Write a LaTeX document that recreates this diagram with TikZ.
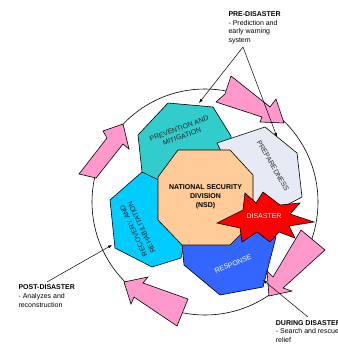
\documentclass[tikz,border=0pt]{standalone}
\usepackage{fontspec}
\setmainfont{Liberation Sans}
\usetikzlibrary{arrows.meta}
\definecolor{tealc}{HTML}{33CCCC}
\definecolor{prepc}{HTML}{E6EAF5}
\definecolor{cyanc}{HTML}{00CCFF}
\definecolor{bluec}{HTML}{3366FF}
\definecolor{nsdc}{HTML}{FFCC99}
\definecolor{starc}{HTML}{FF0000}
\definecolor{pinkc}{HTML}{FF99CC}
\begin{document}
\begin{tikzpicture}[x=1pt,y=-1pt,
  shapebox/.style={draw=black,line width=0.6pt,line join=miter},
  pinkarrow/.style={draw=black,fill=pinkc,line width=0.6pt},
  lbl/.style={font=\fontsize{7}{8.6}\selectfont,align=center,inner sep=0pt,text=black!85},
  note/.style={font=\fontsize{7}{8.6}\selectfont,align=left,inner sep=0pt,anchor=north west},
  callout/.style={draw=black,line width=0.5pt,-{Latex[length=4pt,width=3pt]}}]
\useasboundingbox (0,0) rectangle (337,345);
\clip (0,0) rectangle (337,345);
\fill[white] (0,0) rectangle (337,345);
% ring
\draw[line width=0.6pt] (205,202) circle[radius=113pt];
% recovery
\draw[shapebox,fill=cyanc] (110,200) -- (142,172) -- (185,185) -- (185,240) -- (181,258) -- (152,267) -- (115,248) -- cycle;
% prevention
\draw[shapebox,fill=tealc] (138,135) -- (168,103) -- (213,107) -- (231,136) -- (230,170) -- (190,195) -- (142,172) -- cycle;
% preparedness
\draw[shapebox,fill=prepc] (217,143) -- (265,127) -- (297,153) -- (302,197) -- (285,206) -- (250,206) -- (230,170) -- cycle;
% response
\draw[shapebox,fill=bluec] (182,243) -- (184,265) -- (220,295) -- (263,287) -- (276,237) -- (260,220) -- (195,225) -- cycle;
% NSD
\draw[shapebox,fill=nsdc] (178,150) -- (230,150) -- (253,175) -- (253,222) -- (230,245) -- (182,245) -- (158,220) -- (158,177) -- cycle;
% star
\draw[shapebox,fill=starc] (217,223) -- (243,210) -- (245,193) -- (256,203) -- (263,192) -- (280,205) -- (300,203) -- (290,214) -- (314,222) -- (289,226) -- (295,238) -- (279,232) -- (270,242) -- (257,232) -- (242,242) -- (240,228) -- cycle;
% labels
\node[lbl,rotate=20] (prev) at (180.5,132.5) {PREVENTION AND\\MITIGATION};
\node[lbl,rotate=-60] (prep) at (273,166) {PREPAREDNESS};
\node[lbl,rotate=115] (rec) at (137.5,229) {RECOVERY AND\\REHABILITATION};
\node[lbl,rotate=22,text=white] (resp) at (233,264) {RESPONSE};
\node[lbl,font=\bfseries\fontsize{7}{9}\selectfont,text=black] (nsd) at (205.5,197) {NATIONAL SECURITY\\DIVISION\\(NSD)};
\node[lbl,text=white] (dis) at (264,216.5) {DISASTER};
% pink arrows
\draw[pinkarrow] (123,124) -- (129,149) -- (123,144) -- (96,178) -- (79,174) -- (107,138) -- (103,131) -- cycle;
\draw[pinkarrow] (231,76) -- (270,107) -- (276,99) -- (284,123) -- (260,122) -- (262,117) -- (216,102) -- (225,94) -- cycle;
\draw[pinkarrow] (301,230) -- (325,250) -- (283,288) -- (292,291) -- (269,296) -- (267,271) -- (273,277) -- cycle;
\draw[pinkarrow] (124,282) -- (148,277) -- (143,283) -- (188,299) -- (177,326) -- (134,297) -- (131,304) -- cycle;
% callout texts
\node[note] (pre) at (228.3,11.5) {\textbf{PRE-DISASTER}\\- Prediction and\\early warning\\system};
\node[note] (post) at (18.3,284.8) {\textbf{POST-DISASTER}\\- Analyzes and\\reconstruction};
\node[note] (during) at (275.7,320.2) {\textbf{DURING DISASTER}\\- Search and rescue\\relief};
% callout lines
\coordinate (preapex) at (243,47);
\coordinate (prevtop) at (199,103);
\coordinate (preptop) at (277,137);
\coordinate (postfrom) at (47,282);
\coordinate (recleft) at (112,245);
\coordinate (durfrom) at (308,317);
\coordinate (respright) at (263,280);
\draw[callout] (preapex) -- (prevtop);
\draw[callout] (preapex) -- (preptop);
\draw[callout] (postfrom) -- (recleft);
\draw[callout] (durfrom) -- (respright);
\end{tikzpicture}
\end{document}
